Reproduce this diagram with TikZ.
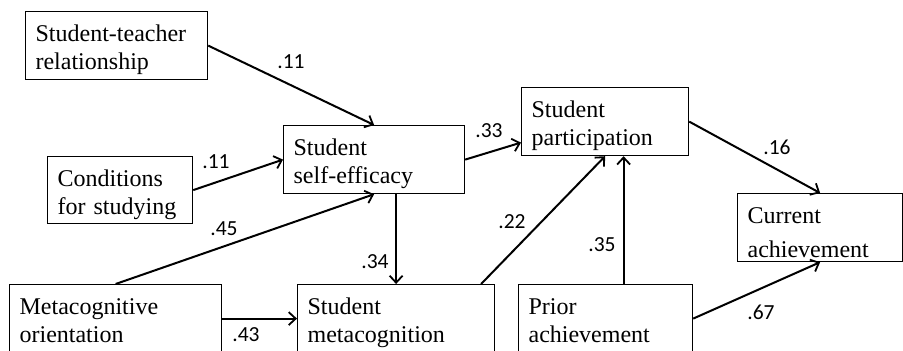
\documentclass[tikz,border=0pt]{standalone}
\usepackage{fontspec}
\setmainfont{Liberation Serif}
\newfontfamily\coeffont{Carlito}
\usetikzlibrary{arrows.meta}
\begin{document}
\begin{tikzpicture}[x=1pt,y=-1pt,
  box/.style={draw, line width=1.2pt, anchor=north west, inner xsep=10pt,
    inner ysep=0pt, align=left, font=\fontsize{24}{28}\selectfont,
    text height=30pt},
  link/.style={line width=2pt,
    -{Straight Barb[length=7pt,width=13pt,line width=1.8pt]}},
  coef/.style={font=\coeffont\fontsize{21.5}{24}\selectfont, inner sep=0pt}
]
\useasboundingbox (0,0) rectangle (903,351);
\clip (0,0) rectangle (903,351);

% variables
\node[box, text width=162pt, text depth=38pt] (st) at (25,11) {Student-teacher\\relationship};
\node[box, text width=125pt, text depth=37pt] (cond) at (47,156) {Conditions\\for studying};
\node[box, text width=161pt, text depth=38pt] (se) at (283,125) {Student\\self-efficacy};
\node[box, text width=147pt, text depth=38pt] (sp) at (521,87) {Student\\participation};
\node[box, text width=145pt, text depth=38pt, font=\fontsize{24}{34}\selectfont] (ca) at (737,193) {Current\\achievement};
\node[box, text width=192pt, text depth=38pt] (mo) at (9,284) {Metacognitive\\orientation};
\node[box, text width=177pt, text depth=38pt] (sm) at (297,284) {Student\\metacognition};
\node[box, text width=154pt, text depth=38pt] (pa) at (518,284) {Prior\\achievement};

% paths
\draw[link] (st.east) -- (se.north);
\draw[link] (cond.east) -- (se.west);
\draw[link] (mo.north) -- (se.south);
\draw[link] (se.south -| sm.north) -- (sm.north);
\draw[link] (mo.east) -- (sm.west);
\draw[link] (se.east) -- ([yshift=-21pt]sp.west);
\draw[link] ([xshift=85pt]sm.north) -- (sp.south);
\draw[link] ([xshift=18pt]pa.north) -- ([xshift=18pt]pa.north |- sp.south);
\draw[link] (sp.east) -- (ca.north);
\draw[link] (pa.east) -- (ca.south);

% path coefficients
\node[coef] (c1) at (291,62) {.11};
\node[coef] (c2) at (216,162) {.11};
\node[coef] (c3) at (489,131) {.33};
\node[coef] (c4) at (777,147) {.16};
\node[coef] (c5) at (224,229) {.45};
\node[coef] (c6) at (375,262) {.34};
\node[coef] (c7) at (246,335) {.43};
\node[coef] (c8) at (512,222) {.22};
\node[coef] (c9) at (602,245) {.35};
\node[coef] (c10) at (761,312) {.67};
\end{tikzpicture}
\end{document}
